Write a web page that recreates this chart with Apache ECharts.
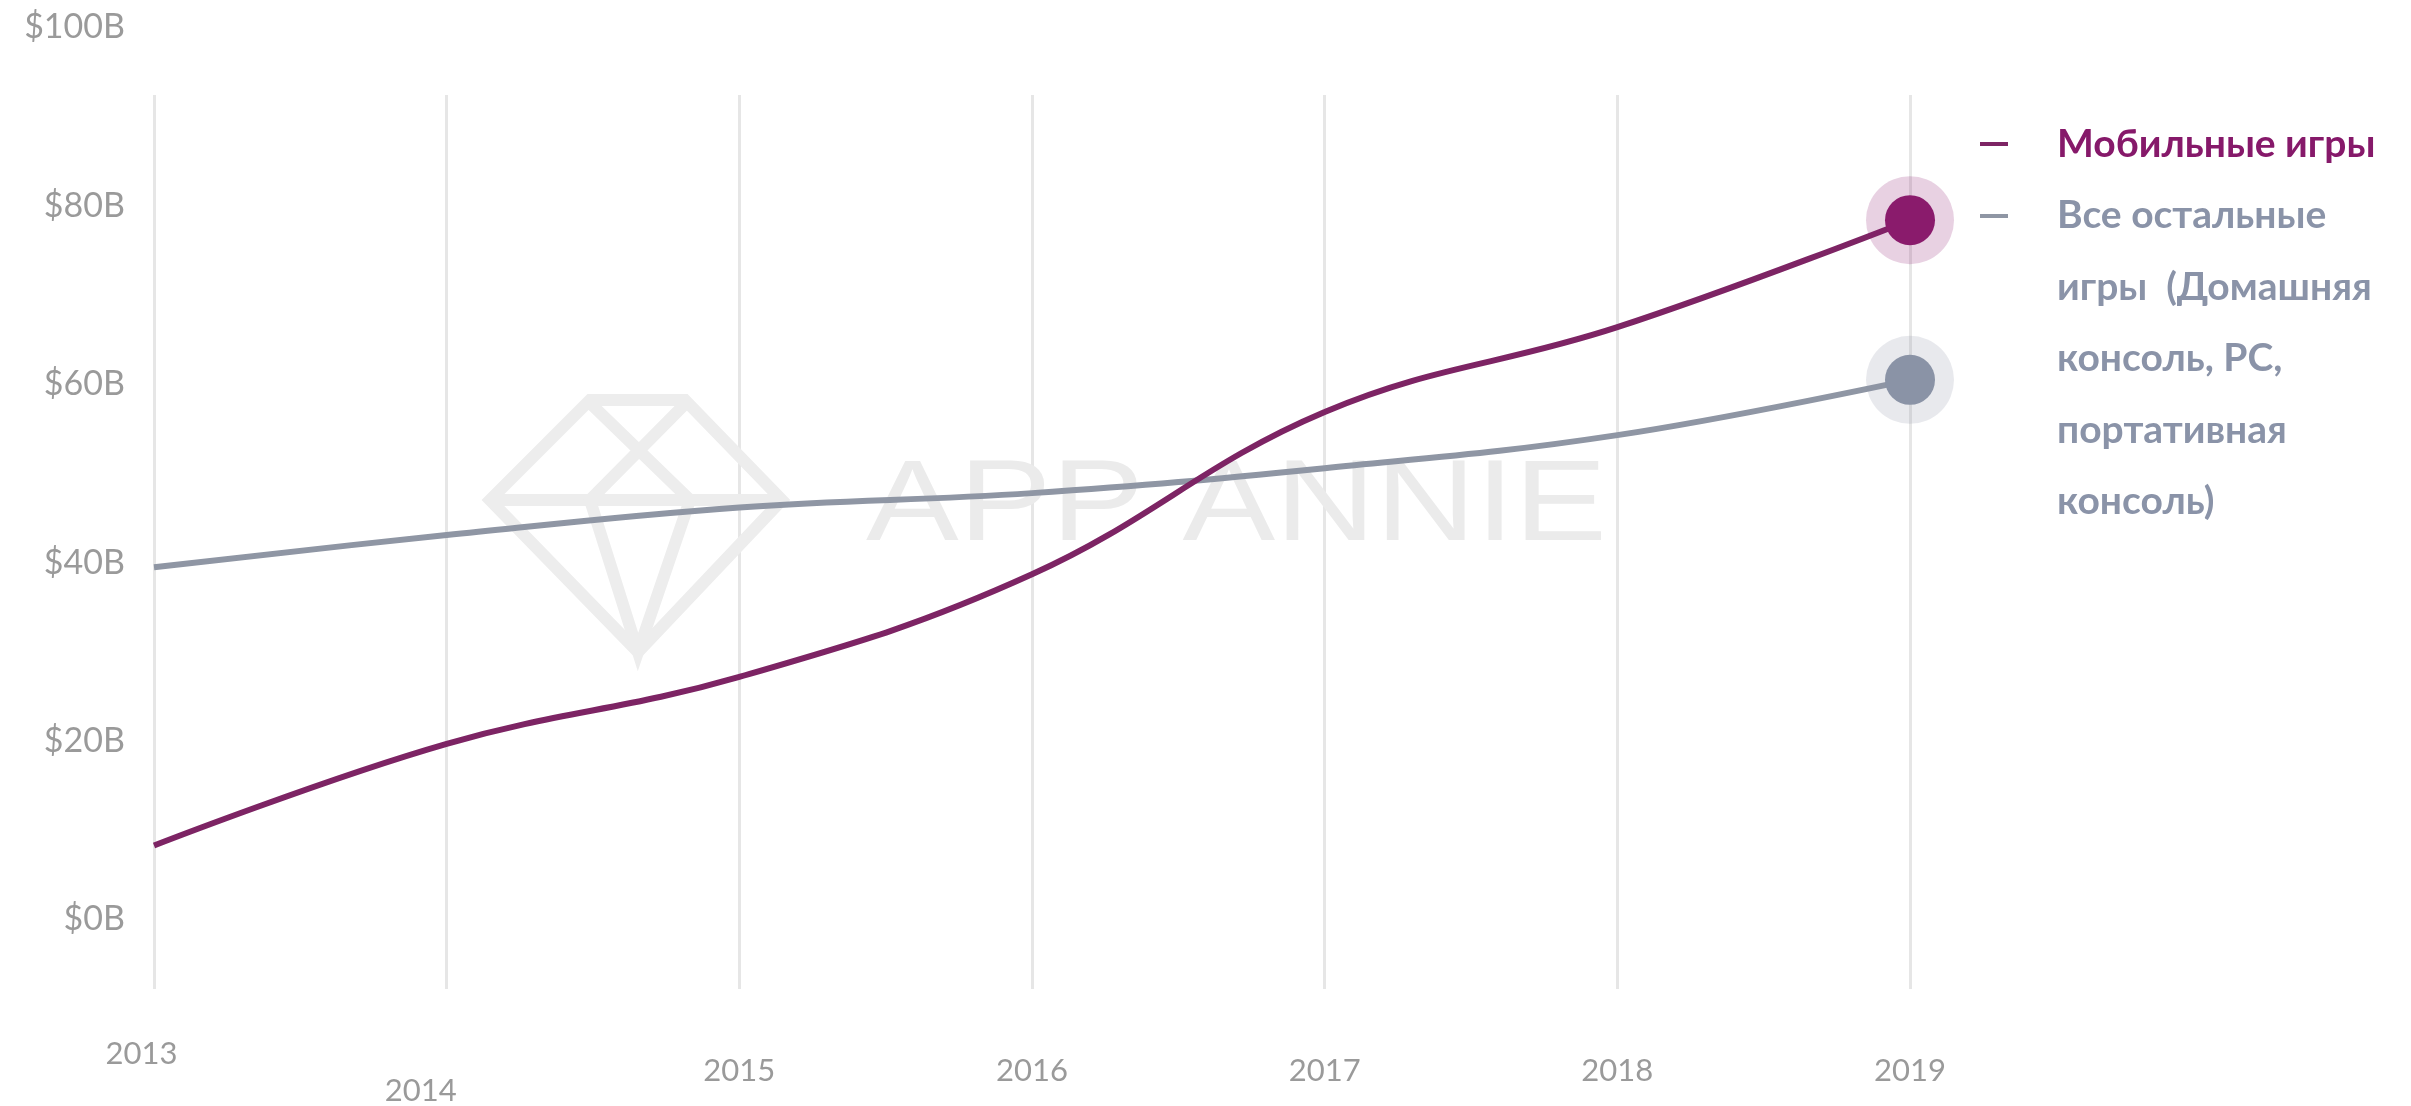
<!DOCTYPE html>
<html>
<head>
<meta charset="utf-8">
<script src="https://cdn.jsdelivr.net/npm/echarts@6/dist/echarts.min.js"></script>
<style>
html, body { margin: 0; padding: 0; background: #fff; }
#chart { width: 2411px; height: 1106px; }
</style>
</head>
<body>
<div id="chart"></div>
<script>
// data, billions USD
var years = ['2013', '2014', '2015', '2016', '2017', '2018', '2019'];
var mobile = [8.3, 19.7, 27.2, 38.7, 56.9, 66.4, 78.4];
var others = [39.5, 43.1, 46.2, 47.8, 50.6, 54.3, 60.5];
var yTicks = [0, 20, 40, 60, 80, 100];
var names = ['Мобильные игры', 'Все остальные\nигры  (Домашняя\nконсоль, PC,\nпортативная\nконсоль)'];

var purple = '#7d2464';
var purpleDot = '#8a1b6c';
var grey = '#8f96a4';
var greyDot = '#8a93a6';
var labelColor = '#9a9a9a';

function textWidth(txt, font) {
    var ctx = document.createElement('canvas').getContext('2d');
    ctx.font = font;
    return ctx.measureText(txt).width;
}

var chart = echarts.init(document.getElementById('chart'));
var last = years.length - 1;

var wmFont = '115px "Liberation Sans"';
var wmScale = 741 / textWidth('APP ANNIE', wmFont);
var legendFont = 'bold 39px Lato, "Open Sans"';

var option = {
    animation: false,
    grid: [
        { left: 154, right: 501, top: 27.5, bottom: 186.5 },
        { left: 154, right: 501, top: 95, bottom: 114 }
    ],
    xAxis: [
        { gridIndex: 0, type: 'category', data: years, boundaryGap: false, show: false },
        {
            gridIndex: 1, type: 'category', data: years, boundaryGap: false,
            axisLine: { show: false },
            axisTick: { show: false },
            splitLine: { show: true, interval: 0, lineStyle: { color: '#e6e6e6', width: 3 } },
            axisLabel: {
                interval: 0, margin: 49,
                color: labelColor, fontFamily: 'Lato', fontSize: 31,
                formatter: function (v, i) {
                    if (i === 0) return '{a|' + v + '}';
                    if (i === 1) return '{b|' + v + '}';
                    return '{c|' + v + '}';
                },
                rich: {
                    a: { color: labelColor, fontFamily: 'Lato', fontSize: 31, padding: [0, 25, 0, 0] },
                    b: { color: labelColor, fontFamily: 'Lato', fontSize: 31, padding: [37, 52, 0, 0] },
                    c: { color: labelColor, fontFamily: 'Lato', fontSize: 31, padding: [17, 0, 0, 0] }
                }
            }
        }
    ],
    yAxis: [
        {
            gridIndex: 0, type: 'value',
            min: yTicks[0], max: yTicks[yTicks.length - 1], interval: yTicks[1] - yTicks[0],
            axisLine: { show: false }, axisTick: { show: false }, splitLine: { show: false },
            axisLabel: {
                margin: 29, color: labelColor, fontFamily: 'Lato', fontSize: 34,
                formatter: function (v) { return '$' + v + 'B'; }
            }
        },
        { gridIndex: 1, type: 'value', show: false, splitLine: { show: false } }
    ],
    graphic: [
        // watermark
        {
            type: 'polygon', z: 1, silent: true,
            shape: { points: [[590, 400], [685, 400], [782, 500], [638, 652], [490, 500]] },
            style: { fill: null, stroke: '#ededed', lineWidth: 12, lineJoin: 'miter' }
        },
        { type: 'polyline', z: 1, silent: true, shape: { points: [[490, 500], [782, 500]] }, style: { stroke: '#ededed', lineWidth: 12 } },
        { type: 'polyline', z: 1, silent: true, shape: { points: [[590, 403], [690, 500], [638, 652], [590, 500], [686, 403]] }, style: { fill: null, stroke: '#ededed', lineWidth: 12 } },
        {
            type: 'text', z: 1, silent: true, x: 866, y: 508, scaleX: wmScale,
            style: { text: 'APP ANNIE', font: wmFont, fill: '#ebebeb', verticalAlign: 'middle' }
        },
        // legend
        { type: 'line', z: 10, shape: { x1: 1980, y1: 144, x2: 2008, y2: 144 }, style: { stroke: purple, lineWidth: 4 } },
        { type: 'line', z: 10, shape: { x1: 1980, y1: 216, x2: 2008, y2: 216 }, style: { stroke: grey, lineWidth: 4 } },
        {
            type: 'text', z: 10, x: 2057, y: 144,
            style: { text: names[0], font: legendFont, fill: '#86196a', verticalAlign: 'middle' }
        },
        {
            type: 'text', z: 10, x: 2057, y: 180,
            style: { text: names[1], font: legendFont, fill: '#8a93a8', lineHeight: 71.5, verticalAlign: 'top' }
        }
    ],
    series: [
        {
            name: names[1], type: 'line', xAxisIndex: 0, yAxisIndex: 0,
            data: others, smooth: 0.4, showSymbol: false, z: 3,
            lineStyle: { color: grey, width: 6 }
        },
        {
            name: names[0], type: 'line', xAxisIndex: 0, yAxisIndex: 0,
            data: mobile, smooth: 0.4, showSymbol: false, z: 4,
            lineStyle: { color: purple, width: 6 }
        },
        {
            type: 'scatter', xAxisIndex: 0, yAxisIndex: 0, z: 5,
            symbolSize: 88,
            data: [
                { value: [years[last], mobile[last]], itemStyle: { color: 'rgba(138,27,108,0.25)' } },
                { value: [years[last], others[last]], itemStyle: { color: 'rgba(138,147,166,0.25)' } }
            ]
        },
        {
            type: 'scatter', xAxisIndex: 0, yAxisIndex: 0, zlevel: 1,
            symbolSize: 50,
            data: [
                { value: [years[last], mobile[last]], itemStyle: { color: purpleDot, opacity: 1 } },
                { value: [years[last], others[last]], itemStyle: { color: greyDot, opacity: 1 } }
            ]
        }
    ]
};
chart.setOption(option);
</script>
</body>
</html>
